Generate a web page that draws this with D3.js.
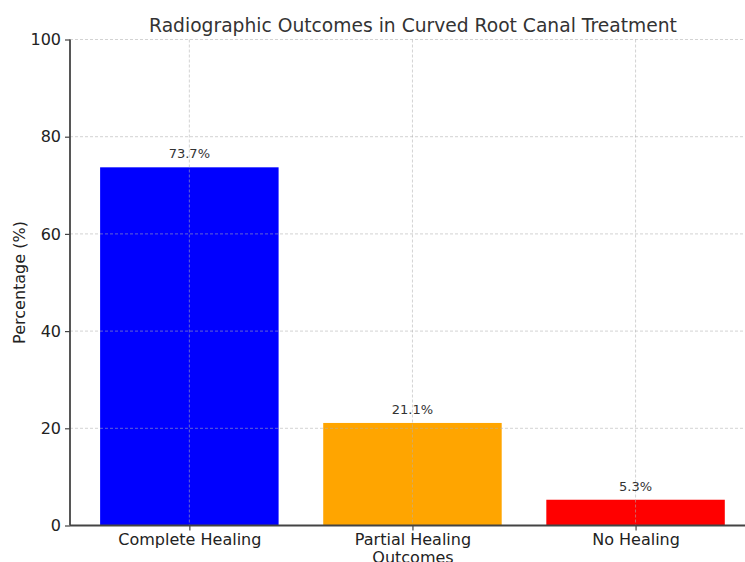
<!DOCTYPE html>
<html><head><meta charset="utf-8">
<script src="https://cdn.jsdelivr.net/npm/d3@7"></script>
<style>body{margin:0;background:#fff;}svg{display:block;font-family:"DejaVu Sans",sans-serif;}</style>
</head><body>
<svg id="c" width="745" height="562"></svg>
<script>
const categories = ["Complete Healing", "Partial Healing", "No Healing"];
const values = [73.7, 21.1, 5.3];
const barColors = ["#0000ff", "#ffa500", "#ff0000"];
const yTicks = [0, 20, 40, 60, 80, 100];
const title = "Radiographic Outcomes in Curved Root Canal Treatment";
const xLabel = "Outcomes";
const yLabel = "Percentage (%)";

(function () {
const svg = d3.select("#c");
const mLeft = 70, mTop = 39.5, mBottom = 525.5;
const unit = 223.1;
const x = d3.scaleLinear().domain([-0.535, 2.54]).range([mLeft, mLeft + 3.075 * unit]);
const y = d3.scaleLinear().domain([0, 100]).range([mBottom, mTop]);
const bw = 0.8;

// bars
svg.selectAll("rect.bar").data(values).enter().append("rect")
  .attr("x", (d, i) => x(i - bw / 2))
  .attr("width", (d, i) => x(i + bw / 2) - x(i - bw / 2))
  .attr("y", d => y(d))
  .attr("height", d => y(0) - y(d))
  .attr("fill", (d, i) => barColors[i]);

// grid (on top)
const g = svg.append("g");
g.selectAll("line.h").data(yTicks.filter(t => t > 0)).enter().append("line")
  .attr("x1", mLeft).attr("x2", 745)
  .attr("y1", d => y(d)).attr("y2", d => y(d))
  .attr("stroke", "#b0b0b0").attr("stroke-opacity", 0.7).attr("stroke-width", 0.8)
  .attr("stroke-dasharray", "3,2");
g.selectAll("line.v").data(categories).enter().append("line")
  .attr("x1", (d, i) => x(i)).attr("x2", (d, i) => x(i))
  .attr("y1", mTop).attr("y2", mBottom)
  .attr("stroke", "#b0b0b0").attr("stroke-opacity", 0.7).attr("stroke-width", 0.8)
  .attr("stroke-dasharray", "3,2");

// axes
const yAxis = d3.axisLeft(y).tickValues(yTicks).tickSize(5).tickPadding(4);
const ya = svg.append("g").attr("transform", `translate(${mLeft},0)`).call(yAxis);
ya.select(".domain").attr("stroke", "#444").attr("stroke-width", 1.8).attr("d", `M0,${mBottom}V${mTop}`);
ya.selectAll(".tick line").attr("stroke", "#444").attr("stroke-width", 1.2);
ya.selectAll(".tick text").attr("font-size", 16).attr("fill", "#222").attr("font-family", "DejaVu Sans");

const xAxis = d3.axisBottom(x).tickValues([0, 1, 2]).tickFormat(i => categories[i]).tickSize(5).tickPadding(3);
const xa = svg.append("g").attr("transform", `translate(0,${mBottom})`).call(xAxis);
xa.select(".domain").attr("stroke", "#444").attr("stroke-width", 1.8).attr("d", `M${mLeft},0H745`);
xa.selectAll(".tick line").attr("stroke", "#444").attr("stroke-width", 1.2);
xa.selectAll(".tick text").attr("font-size", 16).attr("fill", "#222").attr("font-family", "DejaVu Sans");

// value labels
svg.selectAll("text.val").data(values).enter().append("text")
  .attr("x", (d, i) => x(i)).attr("y", d => y(d) - 9)
  .attr("text-anchor", "middle").attr("font-size", 13).attr("fill", "#333")
  .text(d => d.toFixed(1) + "%");

// title & labels
svg.append("text").attr("x", 413).attr("y", 32).attr("text-anchor", "middle")
  .attr("font-size", 18.7).attr("fill", "#333").text(title);
svg.append("text").attr("x", 413).attr("y", 563).attr("text-anchor", "middle")
  .attr("font-size", 16).attr("fill", "#222").text(xLabel);
svg.append("text").attr("transform", `translate(25,${(mTop + mBottom) / 2}) rotate(-90)`)
  .attr("text-anchor", "middle").attr("font-size", 16).attr("fill", "#222").text(yLabel);
})();
</script>
</body></html>
